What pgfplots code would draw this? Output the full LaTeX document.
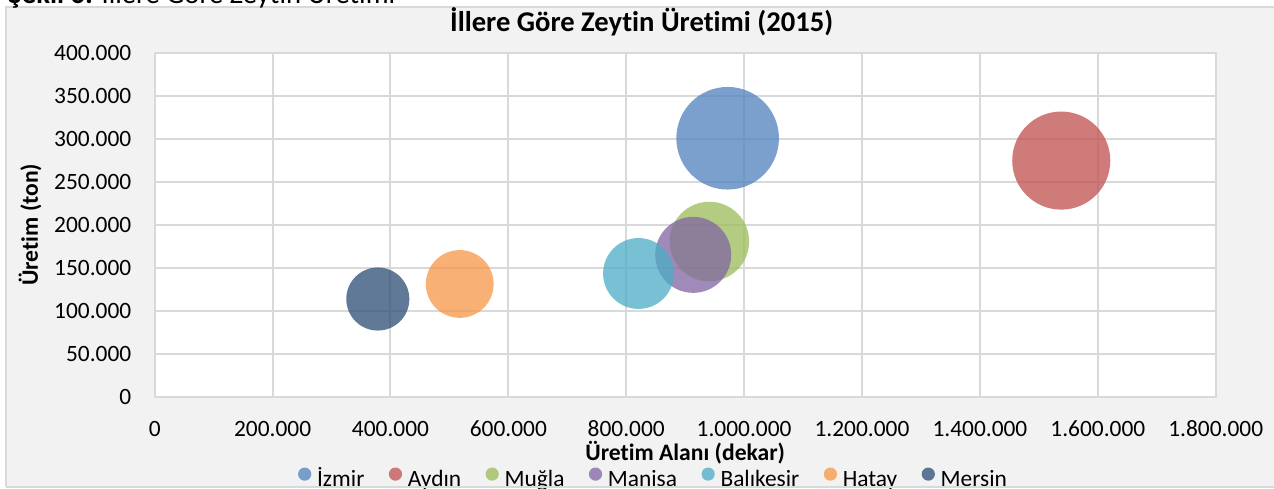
\documentclass[border=0pt]{standalone}
\usepackage{fontspec}
\setmainfont{Carlito}[Ligatures=NoCommon]
\usepackage{pgfplots}
\pgfplotsset{compat=1.18}
\definecolor{cIzmir}{HTML}{4F81BD}
\definecolor{cAydin}{HTML}{C0504D}
\definecolor{cMugla}{HTML}{9BBB59}
\definecolor{cManisa}{HTML}{8064A2}
\definecolor{cBalikesir}{HTML}{4BACC6}
\definecolor{cHatay}{HTML}{F79646}
\definecolor{cMersin}{HTML}{2C4D75}
\definecolor{gridc}{HTML}{D9D9D9}
\definecolor{bgc}{HTML}{F2F2F2}
\begin{document}
\begin{tikzpicture}
\useasboundingbox (0,0) rectangle (637pt,244pt);
\clip (0,0) rectangle (637pt,244pt);
\fill[white] (0,0) rectangle (637pt,244pt);
\filldraw[fill=bgc, draw=gridc, line width=0.75pt] (3pt,0.5pt) rectangle (640pt,240.5pt);
\node[anchor=base west, inner sep=0pt, font=\fontsize{14.3}{16}\selectfont] at (4pt,242pt) {\textbf{Şekil 6:} İllere Göre Zeytin Üretimi};
\begin{axis}[
  at={(77.35pt,45.65pt)}, anchor=south west,
  scale only axis, width=530.5pt, height=171.85pt,
  xmin=0, xmax=1800000, ymin=0, ymax=400000,
  xtick={0,200000,400000,600000,800000,1000000,1200000,1400000,1600000,1800000},
  ytick={0,50000,100000,150000,200000,250000,300000,350000,400000},
  scaled ticks=false,
  /pgf/number format/.cd, fixed, precision=0, 1000 sep={.}, assume math mode=true,
  /pgfplots/.cd,
  axis background/.style={fill=white},
  axis line style={gridc, line width=1pt},
  grid=major, grid style={gridc, line width=1pt},
  major tick length=0pt,
  tick label style={font=\fontsize{11.7}{14}\selectfont, text=black},
  xticklabel style={anchor=base, inner sep=0pt, yshift=-20pt},
  yticklabel style={anchor=east, inner sep=0pt, xshift=-11.5pt},
  title={İllere Göre Zeytin Üretimi (2015)},
  title style={at={(axis description cs:0.459,1.0282)}, anchor=base, inner sep=0pt, font=\bfseries\fontsize{14.3}{16}\selectfont},
  xlabel={Üretim Alanı (dekar)},
  xlabel style={at={(axis description cs:0.5,-0.1862)}, anchor=base, inner sep=0pt, font=\bfseries\fontsize{11.8}{14}\selectfont},
  ylabel={Üretim (ton)},
  ylabel style={at={(axis description cs:-0.1175,0.5)}, anchor=center, rotate=0, inner sep=0pt, font=\bfseries\fontsize{11.8}{14}\selectfont},
  legend columns=-1,
  legend style={at={(axis description cs:0.469,-0.2773)}, anchor=south, draw=none, fill=none,
    inner sep=0pt, font=\fontsize{11.7}{14}\selectfont,
    nodes={inner sep=0pt, text height=8pt, text depth=2.5pt},
    /tikz/every odd column/.append style={column sep=2.7pt},
    /tikz/every even column/.append style={column sep=12pt}},
  legend image code/.code={\fill[#1] (3.3pt,3.5pt) circle (3.3pt);},
]
\addplot[only marks, mark=*, mark size=25.65pt, color=cIzmir, fill opacity=0.75, draw opacity=0] coordinates {(972000,300800)};
\addlegendentry{İzmir}
\addplot[only marks, mark=*, mark size=24.52pt, color=cAydin, fill opacity=0.75, draw opacity=0] coordinates {(1538000,274800)};
\addlegendentry{Aydın}
\addplot[only marks, mark=*, mark size=19.88pt, color=cMugla, fill opacity=0.75, draw opacity=0] coordinates {(941000,180600)};
\addlegendentry{Muğla}
\addplot[only marks, mark=*, mark size=19.0pt, color=cManisa, fill opacity=0.75, draw opacity=0] coordinates {(913600,165100)};
\addlegendentry{Manisa}
\addplot[only marks, mark=*, mark size=17.71pt, color=cBalikesir, fill opacity=0.75, draw opacity=0] coordinates {(820800,143400)};
\addlegendentry{Balıkesir}
\addplot[only marks, mark=*, mark size=16.94pt, color=cHatay, fill opacity=0.75, draw opacity=0] coordinates {(517500,131200)};
\addlegendentry{Hatay}
\addplot[only marks, mark=*, mark size=15.77pt, color=cMersin, fill opacity=0.75, draw opacity=0] coordinates {(378500,113700)};
\addlegendentry{Mersin}
\end{axis}
\fill[white] (0,0) rectangle (637pt,0.3pt);
\draw[gridc, line width=0.75pt] (3pt,0.5pt) -- (640pt,0.5pt);
\end{tikzpicture}
\end{document}
